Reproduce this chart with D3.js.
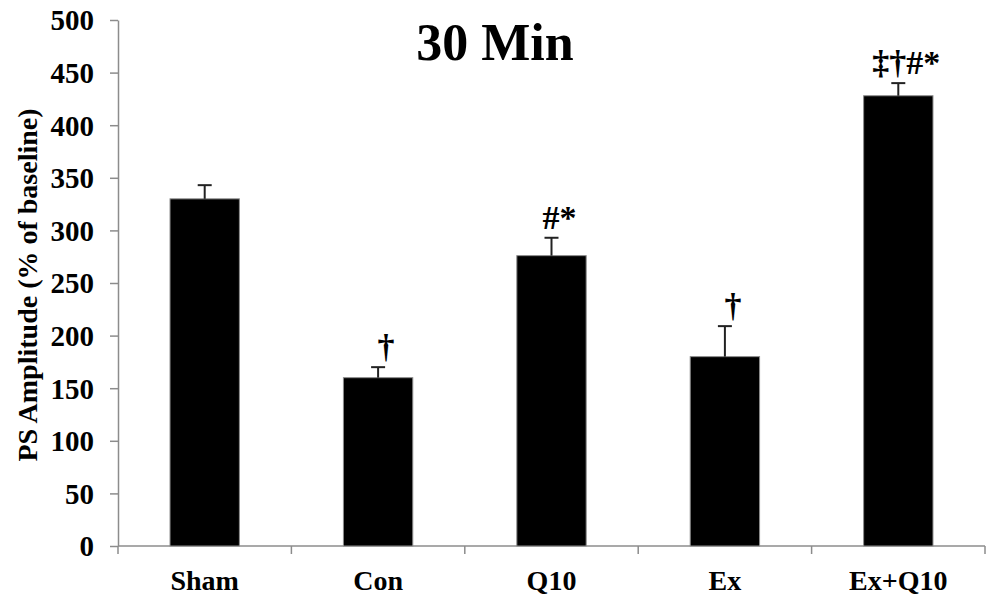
<!DOCTYPE html>
<html>
<head>
<meta charset="utf-8">
<script src="https://cdn.jsdelivr.net/npm/d3@7"></script>
<style>
  body { margin: 0; background: #fff; }
  svg { display: block; font-family: "Liberation Serif", "Times New Roman", serif; font-weight: bold; }
  .axis path, .axis line { stroke: #8c8c8c; stroke-width: 1.5; }
</style>
</head>
<body>
<div id="chart"></div>
<script>
// Groups and PS amplitude at 30 min (% of baseline)
var groups = ['Sham', 'Con', 'Q10', 'Ex', 'Ex+Q10'];
var means = [330, 160, 276, 180, 428];
var errors = [13, 10, 17, 29, 12];
var marks = ['', '\u2020', '#*', '\u2020', '\u2021\u2020#*'];
var yTicks = [0, 50, 100, 150, 200, 250, 300, 350, 400, 450, 500];

var width = 988, height = 598;
var margin = { top: 20, right: 3, bottom: 52, left: 118 };

var svg = d3.select('#chart').append('svg')
  .attr('width', width)
  .attr('height', height);

var x = d3.scaleBand()
  .domain(groups)
  .range([margin.left, width - margin.right])
  .paddingInner(0.6)
  .paddingOuter(0.3);

var xBand = d3.scaleBand()
  .domain(groups)
  .range([margin.left, width - margin.right]);

var y = d3.scaleLinear()
  .domain([0, 500])
  .range([height - margin.bottom, margin.top]);

// y axis
var yAxis = svg.append('g')
  .attr('class', 'axis')
  .attr('transform', `translate(${margin.left},0)`)
  .call(d3.axisLeft(y).tickValues(yTicks).tickSize(8).tickSizeOuter(0).tickPadding(16));
yAxis.selectAll('text').attr('font-size', 29).attr('fill', '#000').attr('font-family', 'Liberation Serif').attr('dy', '0.34em');

// x axis with ticks at band boundaries
var xAxisG = svg.append('g').attr('class', 'axis');
xAxisG.append('line')
  .attr('x1', margin.left).attr('x2', width - margin.right)
  .attr('y1', y(0)).attr('y2', y(0));
var bounds = groups.map(function (g) { return xBand(g); }).concat([xBand.range()[1]]);
xAxisG.selectAll('.tk').data(bounds).join('line')
  .attr('class', 'tk')
  .attr('x1', function (d) { return d; }).attr('x2', function (d) { return d; })
  .attr('y1', y(0)).attr('y2', y(0) + 8);

svg.append('g').selectAll('text').data(groups).join('text')
  .attr('x', function (d) { return x(d) + x.bandwidth() / 2; })
  .attr('y', y(0) + 44)
  .attr('text-anchor', 'middle')
  .attr('font-size', 28)
  .text(function (d) { return d; });

// bars
svg.append('g').selectAll('rect').data(groups).join('rect')
  .attr('x', function (d) { return x(d); })
  .attr('y', function (d, i) { return y(means[i]); })
  .attr('width', x.bandwidth())
  .attr('height', function (d, i) { return y(0) - y(means[i]); })
  .attr('fill', '#000')
  .attr('stroke', '#8c8c8c')
  .attr('stroke-width', 1);

// error bars (upper only)
var eb = svg.append('g').attr('stroke', '#222').attr('stroke-width', 2);
groups.forEach(function (g, i) {
  var cx = x(g) + x.bandwidth() / 2;
  eb.append('line')
    .attr('x1', cx).attr('x2', cx)
    .attr('y1', y(means[i])).attr('y2', y(means[i] + errors[i]));
  eb.append('line')
    .attr('x1', cx - 7).attr('x2', cx + 7)
    .attr('y1', y(means[i] + errors[i])).attr('y2', y(means[i] + errors[i]));
});

// significance marks
svg.append('g').selectAll('text').data(groups).join('text')
  .attr('x', function (d) { return x(d) + x.bandwidth() / 2 + 8; })
  .attr('y', function (d, i) { return y(means[i] + errors[i]) - 9; })
  .attr('text-anchor', 'middle')
  .attr('font-size', 34)
  .text(function (d, i) { return marks[i]; });

// title
svg.append('text')
  .attr('x', 495).attr('y', 60)
  .attr('text-anchor', 'middle')
  .attr('font-size', 52)
  .text('30 Min');

// y label
svg.append('text')
  .attr('transform', 'translate(37,285) rotate(-90)')
  .attr('text-anchor', 'middle')
  .attr('font-size', 28)
  .text('PS Amplitude (% of baseline)');
</script>
</body>
</html>
